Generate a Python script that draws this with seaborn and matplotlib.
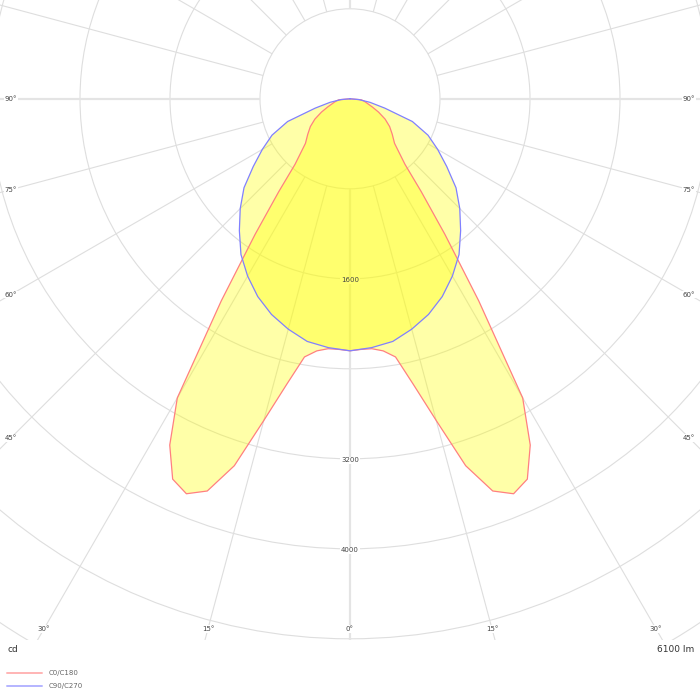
import numpy as np
import pandas as pd
import matplotlib
matplotlib.use("Agg")
import matplotlib.pyplot as plt
import seaborn as sns
from matplotlib.lines import Line2D
from matplotlib.patches import Circle

# ---------------- data ----------------
gamma_c0 = [0, 2.5, 5, 7.5, 10, 12.5, 15, 17.5, 20, 22.5, 25, 27.5, 30, 32.5,
            35, 37.5, 40, 45, 50, 55, 60, 65, 70, 75, 80, 85, 90]
intensity_c0 = [2240, 2230, 2230, 2260, 2330, 2600, 2960, 3420, 3710, 3800, 3730,
                3470, 3070, 2130, 1470, 1040, 760, 560, 490, 430, 360, 280, 210,
                160, 130, 100, 0]
gamma_c90 = [0, 5, 10, 15, 20, 25, 30, 35, 40, 45, 50, 55, 60, 65, 70, 75, 80, 85, 90]
intensity_c90 = [2240, 2220, 2190, 2120, 2040, 1940, 1820, 1690, 1530, 1380, 1230,
                 1050, 900, 765, 590, 320, 180, 80, 0]
series_names = ["C0/C180", "C90/C270"]
ring_values = [800, 1600, 2400, 3200, 4000, 4800, 5600]
ring_labels = [1600, 3200, 4000]
angle_ticks = [0, 15, 30, 45, 60, 75, 90]
unit_label = "cd"
flux_label = "6100 lm"

# ---------------- layout ----------------
sns.set_style("white")
plt.rcParams["font.family"] = ["DejaVu Sans"]

W, H = 700, 700
S = 90.0 / 800.0          # px per cd
CX, CY = 350.0, 98.8      # polar centre in pixels
AX_H = 640.0              # drawing area height in px
x_half = CX / S
y_top = CY / S
y_bot = -(AX_H - CY) / S

fig = plt.figure(figsize=(7, 7), dpi=100)
ax = fig.add_axes([0, (H - AX_H) / H, 1, AX_H / H])

grid_c = "#dedede"
# rings
for r in ring_values:
    ax.add_patch(Circle((0, 0), r, fill=False, ec=grid_c, lw=0.8, zorder=1))
# spokes
r0, r1 = ring_values[0], 9000
for a in range(0, 360, 15):
    t = np.deg2rad(a)
    major = a % 90 == 0
    ax.plot([r0 * np.sin(t), r1 * np.sin(t)], [-r0 * np.cos(t), -r1 * np.cos(t)],
            color="#e4e4e4" if major else grid_c, lw=1.6 if major else 0.8,
            zorder=1, solid_capstyle="butt")

# ring labels: white box under the fills, text above them
for v in ring_labels:
    for z, txtcol, box in [(2, "none", dict(facecolor="white", edgecolor="none", pad=0.6)),
                           (5, "#444444", None)]:
        ax.annotate(str(v), xy=(0, -v), xytext=(0, -1.2), textcoords="offset points",
                    ha="center", va="center", fontsize=5, color=txtcol, zorder=z,
                    bbox=box)


def polygon(g, i):
    g = np.deg2rad(np.asarray(g, float))
    i = np.asarray(i, float)
    xs = np.concatenate([-(i * np.sin(g))[::-1], (i * np.sin(g))[1:]])
    ys = np.concatenate([-(i * np.cos(g))[::-1], -(i * np.cos(g))[1:]])
    return xs, ys


curves = [(gamma_c0, intensity_c0, "#ff8080"), (gamma_c90, intensity_c90, "#8080ff")]
for (g, i, col), name in zip(curves, series_names):
    xs, ys = polygon(g, i)
    ax.fill(xs, ys, color="#ffff00", alpha=0.34, lw=0, zorder=3)
    df = pd.DataFrame({"x": xs, "y": ys})
    sns.lineplot(data=df, x="x", y="y", sort=False, estimator=None, ax=ax,
                 color=col, lw=0.9, zorder=4)
ax.set_xlim(-x_half, x_half)
ax.set_ylim(y_bot, y_top)
ax.axis("off")

# angle labels, placed on each spoke 11 px inside the border
inset = 11.0 / S
lab_kw = dict(ha="center", va="center", fontsize=5, color="#444444", zorder=6,
              bbox=dict(facecolor="white", edgecolor="none", pad=0.6))
for a in angle_ticks:
    t = np.deg2rad(a)
    sides = [1] if a == 0 else [-1, 1]
    for sgn in sides:
        if np.tan(t) * (-y_bot) > x_half:   # hits the side border
            xx = sgn * (x_half - inset)
            yy = -abs(xx) / np.tan(t) if a != 90 else 0.0
        else:                                # hits the bottom border
            yy = y_bot + inset
            xx = sgn * abs(yy) * np.tan(t)
        ax.text(xx, yy, f"{a}°", **lab_kw)

# unit / flux texts
fig.text(7 / W, 1 - 650 / H, unit_label, ha="left", va="center", fontsize=6.5, color="#333333")
fig.text(694 / W, 1 - 650 / H, flux_label, ha="right", va="center", fontsize=6.5, color="#333333")

# legend
handles = [Line2D([], [], color="#ffb4b4", lw=1.4), Line2D([], [], color="#b4b4ff", lw=1.4)]
fig.legend(handles=handles, labels=series_names, loc="upper left",
           bbox_to_anchor=(7 / W, 1 - 670 / H), frameon=False, fontsize=5,
           handlelength=5.0, handletextpad=1.0, labelspacing=1.0, borderpad=0,
           borderaxespad=0, labelcolor="#666666")

fig.savefig("out.png", dpi=100)
